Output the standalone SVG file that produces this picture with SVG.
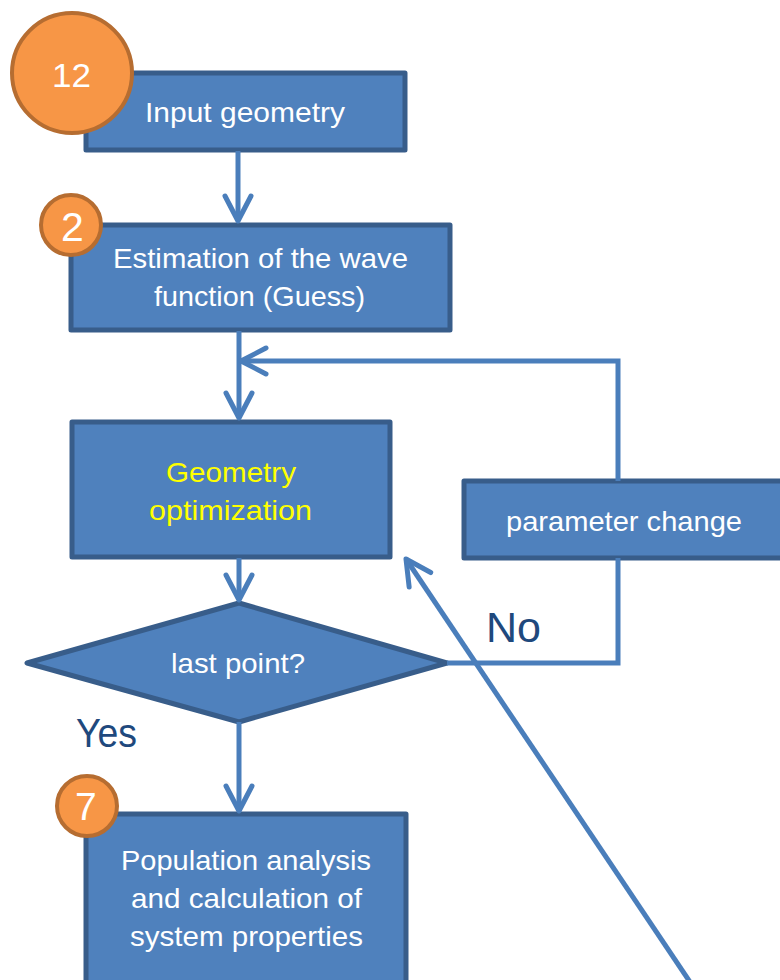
<svg xmlns="http://www.w3.org/2000/svg" width="780" height="980" viewBox="0 0 780 980">
  <style>
    .box { fill: #4f81bd; stroke: #385d8a; stroke-width: 5; stroke-linejoin: round; }
    .badge { fill: #f79646; stroke: #b66d31; stroke-width: 4; }
    .conn { fill: none; stroke: #4a7ebb; stroke-width: 5; stroke-linejoin: miter; }
    .t { font-family: "Liberation Sans", Arial, sans-serif; font-size: 28px; fill: #ffffff; }
    .y { fill: #ffff00; }
    .lbl { font-family: "Liberation Sans", Arial, sans-serif; fill: #1f497d; }
    .num { font-family: "Liberation Sans", Arial, sans-serif; fill: #ffffff; }
  </style>
  <defs>
    <marker id="arr" markerUnits="userSpaceOnUse" viewBox="-32 -20 40 40" markerWidth="40" markerHeight="40" refX="0" refY="0" orient="auto" overflow="visible">
      <path d="M -25 -13 L 0 0 L -25 13" fill="none" stroke="#4a7ebb" stroke-width="5" stroke-linecap="round" stroke-linejoin="round"/>
    </marker>
  </defs>
  <rect width="780" height="980" fill="#ffffff"/>

  <g id="n-input">
    <rect class="box" x="86" y="73" width="319" height="77"/>
    <text class="t" x="145" y="122" textLength="200" lengthAdjust="spacingAndGlyphs">Input geometry</text>
  </g>
  <g id="n-guess">
    <rect class="box" x="71" y="225" width="379" height="105"/>
    <text class="t" x="113" y="268" textLength="295" lengthAdjust="spacingAndGlyphs">Estimation of the wave</text>
    <text class="t" x="154" y="306" textLength="211" lengthAdjust="spacingAndGlyphs">function (Guess)</text>
  </g>
  <g id="n-opt">
    <rect class="box" x="72" y="422" width="318" height="135"/>
    <text class="t y" x="166" y="482" textLength="130" lengthAdjust="spacingAndGlyphs">Geometry</text>
    <text class="t y" x="149" y="520" textLength="163" lengthAdjust="spacingAndGlyphs">optimization</text>
  </g>
  <g id="n-param">
    <rect class="box" x="464" y="481" width="330" height="77"/>
    <text class="t" x="506" y="531" textLength="236" lengthAdjust="spacingAndGlyphs">parameter change</text>
  </g>
  <g id="n-last">
    <polygon class="box" points="27,663 239,603 447,663 239,722"/>
    <text class="t" x="171" y="673" textLength="134" lengthAdjust="spacingAndGlyphs">last point?</text>
  </g>
  <g id="n-pop">
    <rect class="box" x="86" y="814" width="320" height="180"/>
    <text class="t" x="121" y="870" textLength="250" lengthAdjust="spacingAndGlyphs">Population analysis</text>
    <text class="t" x="131" y="908" textLength="231" lengthAdjust="spacingAndGlyphs">and calculation of</text>
    <text class="t" x="130" y="946" textLength="233" lengthAdjust="spacingAndGlyphs">system properties</text>
  </g>

  <g id="connectors">
    <path class="conn" d="M 238 151 L 238 221" marker-end="url(#arr)"/>
    <path class="conn" d="M 239 331 L 239 418" marker-end="url(#arr)"/>
    <path class="conn" d="M 618 481 L 618 361 L 241 361" marker-end="url(#arr)"/>
    <path class="conn" d="M 239 558 L 239 600" marker-end="url(#arr)"/>
    <path class="conn" d="M 447 663 L 618 663 L 618 558"/>
    <path class="conn" d="M 239 722 L 239 811" marker-end="url(#arr)"/>
    <path class="conn" d="M 692 985 L 406 559" marker-end="url(#arr)"/>
  </g>

  <g id="labels">
    <text class="lbl" x="486" y="642" font-size="42" textLength="55" lengthAdjust="spacingAndGlyphs">No</text>
    <text class="lbl" x="76" y="747" font-size="40" textLength="61" lengthAdjust="spacingAndGlyphs">Yes</text>
  </g>

  <g id="badge-12">
    <circle class="badge" cx="72" cy="73" r="60"/>
    <text class="num" x="52" y="87" font-size="34" textLength="39" lengthAdjust="spacingAndGlyphs">12</text>
  </g>
  <g id="badge-2">
    <circle class="badge" cx="71" cy="225" r="30"/>
    <text class="num" x="61" y="241" font-size="41">2</text>
  </g>
  <g id="badge-7">
    <circle class="badge" cx="87" cy="806" r="30"/>
    <text class="num" x="75" y="820" font-size="39">7</text>
  </g>
</svg>
